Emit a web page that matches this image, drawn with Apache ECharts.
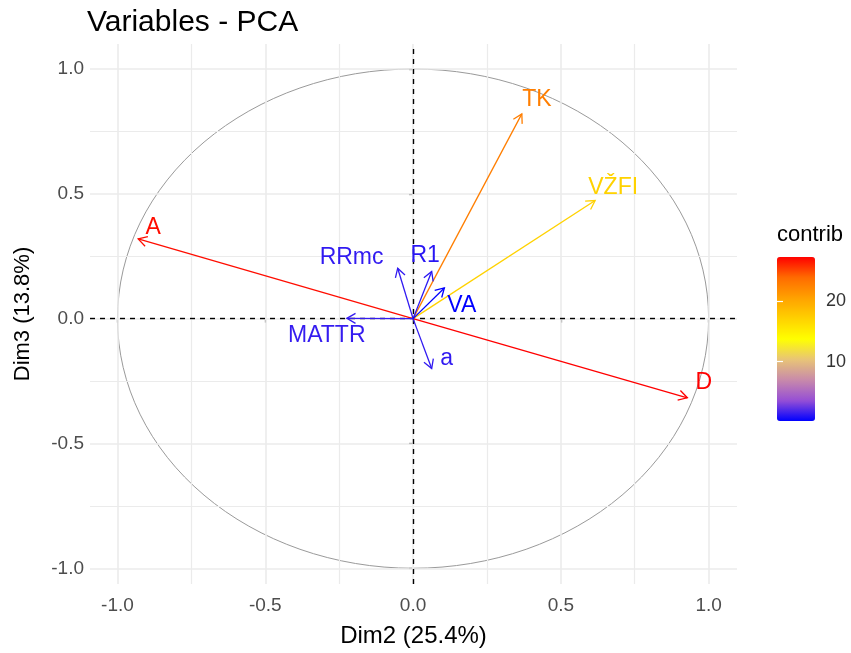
<!DOCTYPE html>
<html><head><meta charset="utf-8">
<script src="https://cdn.jsdelivr.net/npm/echarts@6/dist/echarts.min.js"></script>
<style>html,body{margin:0;padding:0;background:#fff}#c{width:851px;height:653px}</style>
</head><body><div id="c"></div>
<script>
// ---- data ----
const variables = ['A', 'D', 'TK', 'VŽFI', 'RRmc', 'R1', 'VA', 'MATTR', 'a'];
const dim2 = [-0.930, 0.928, 0.368, 0.616, -0.052, 0.063, 0.106, -0.224, 0.063];
const dim3 = [0.319, -0.317, 0.820, 0.473, 0.202, 0.189, 0.123, 0.001, -0.200];
const contrib = [26.9, 27.3, 22.7, 17.1, 1.3, 1.1, 0.2, 1.4, 1.3];
// label anchor positions (data units, as repelled in the reference)
const labelX = [-0.879, 0.984, 0.419, 0.677, -0.208, 0.041, 0.165, -0.292, 0.114];
const labelY = [0.365, -0.258, 0.877, 0.524, 0.246, 0.254, 0.052, -0.067, -0.160];
const axisTicks = [-1, -0.5, 0, 0.5, 1];
const tickLabels = ['-1.0', '-0.5', '0.0', '0.5', '1.0'];
const minorTicks = [-0.75, -0.25, 0.25, 0.75];
const legendTicks = [10, 20];
const legendTickLabels = ['10', '20'];

const FONT = '"Liberation Sans", Arial, sans-serif';
const cMin = Math.min(...contrib), cMax = Math.max(...contrib);
// blue -> yellow -> red, sampled as a Lab-space blend (like ggplot's gradient)
const gradient = ['#0000FF', '#964FD5', '#C88AAA', '#E8C477', '#FFFF00', '#FFD100', '#FFA100', '#FF6B00', '#FF0000'];

const chart = echarts.init(document.getElementById('c'), null, {renderer: 'canvas'});

const arrowData = variables.map((n, i) => [dim2[i], dim3[i], contrib[i], labelX[i], labelY[i]]);

function tickLabel(v) {
  const i = axisTicks.findIndex(t => Math.abs(t - v) < 1e-9);
  return i >= 0 ? tickLabels[i] : '';
}

function renderArrow(params, api) {
  const o = api.coord([0, 0]);
  const p = api.coord([api.value(0), api.value(1)]);
  const color = api.visual('color');
  const ang = Math.atan2(p[1] - o[1], p[0] - o[0]);
  const L = 10, a = Math.PI / 6;
  const h1 = [p[0] - L * Math.cos(ang - a), p[1] - L * Math.sin(ang - a)];
  const h2 = [p[0] - L * Math.cos(ang + a), p[1] - L * Math.sin(ang + a)];
  const lab = api.coord([api.value(3), api.value(4)]);
  return {
    type: 'group',
    children: [
      {type: 'line', shape: {x1: o[0], y1: o[1], x2: p[0], y2: p[1]}, style: {stroke: color, lineWidth: 1.3}},
      {type: 'polyline', shape: {points: [h1, p, h2]}, style: {stroke: color, fill: null, lineWidth: 1.3}},
      {type: 'text', x: lab[0], y: lab[1], style: {text: variables[params.dataIndex], fill: color, fontSize: 23, fontFamily: FONT, align: 'center', verticalAlign: 'middle'}}
    ]
  };
}

function renderCircle(params, api) {
  const c = api.coord([api.value(0), api.value(1)]);
  const r = api.value(2);
  const rx = api.size([r, 0])[0];
  const ry = api.size([0, r])[1];
  return {
    type: 'path',
    shape: {pathData: `M ${c[0] - rx} ${c[1]} A ${rx} ${ry} 0 1 0 ${c[0] + rx} ${c[1]} A ${rx} ${ry} 0 1 0 ${c[0] - rx} ${c[1]} Z`},
    style: {stroke: '#9A9A9A', fill: null, lineWidth: 1}
  };
}

const gridLineMajor = {color: '#EBEBEB', width: 1.6, type: 'solid'};
const gridLineMinor = {color: '#EBEBEB', width: 1.2, type: 'solid'};

const option = {
  animation: false,
  backgroundColor: '#fff',
  title: [
    {text: 'Variables - PCA', left: 87, top: 8, padding: 0, textStyle: {fontFamily: FONT, fontSize: 30, fontWeight: 'normal', color: '#000'}},
    {text: 'contrib', left: 777, top: 224, padding: 0, textStyle: {fontFamily: FONT, fontSize: 22, fontWeight: 'normal', color: '#000'}}
  ],
  grid: [
    {left: 90, right: 114, top: 44, bottom: 64},
    {left: 777, top: 257, width: 38, height: 164}
  ],
  xAxis: [
    {
      gridIndex: 0, type: 'value', min: -1.093, max: 1.096,
      name: 'Dim2 (25.4%)', nameLocation: 'middle', nameGap: 40,
      nameTextStyle: {fontFamily: FONT, fontSize: 24, color: '#000'},
      axisLine: {show: false},
      axisTick: {show: true, customValues: axisTicks, length: 4, lineStyle: {color: '#333', width: 1.2}},
      axisLabel: {customValues: axisTicks, formatter: tickLabel, fontFamily: FONT, fontSize: 19, color: '#4D4D4D', margin: 12},
      splitLine: {show: false}
    },
    {gridIndex: 1, type: 'value', min: 0, max: 1, show: false}
  ],
  yAxis: [
    {
      gridIndex: 0, type: 'value', min: -1.063, max: 1.1,
      name: 'Dim3 (13.8%)', nameLocation: 'middle', nameGap: 56, nameRotate: 90,
      nameTextStyle: {fontFamily: FONT, fontSize: 22, color: '#000'},
      axisLine: {show: false},
      axisTick: {show: true, customValues: axisTicks, length: 4, lineStyle: {color: '#333', width: 1.2}},
      axisLabel: {customValues: axisTicks, formatter: tickLabel, fontFamily: FONT, fontSize: 19, color: '#4D4D4D', margin: 6},
      splitLine: {show: false}
    },
    {
      gridIndex: 1, type: 'value', min: cMin, max: cMax, position: 'right', z: 10,
      axisLine: {show: false},
      axisTick: {show: true, inside: true, customValues: legendTicks, length: 6, lineStyle: {color: '#fff', width: 1.2}},
      axisLabel: {customValues: legendTicks, formatter: v => legendTickLabels[legendTicks.indexOf(v)] || '', fontFamily: FONT, fontSize: 18, color: '#333', margin: 11},
      splitLine: {show: false}
    },
    {
      gridIndex: 1, type: 'value', min: cMin, max: cMax, position: 'left', z: 10,
      axisLine: {show: false},
      axisTick: {show: true, inside: true, customValues: legendTicks, length: 6, lineStyle: {color: '#fff', width: 1.2}},
      axisLabel: {show: false},
      splitLine: {show: false}
    }
  ],
  visualMap: {
    type: 'continuous', seriesIndex: 3, dimension: 2, min: cMin, max: cMax,
    inRange: {color: gradient}, calculable: false, hoverLink: false,
    left: 777, top: 257, itemWidth: 38, itemHeight: 164, padding: 0, text: null,
    showLabel: false
  },
  series: [
    {
      type: 'line', xAxisIndex: 0, yAxisIndex: 0, data: [], silent: true, z: 1,
      markLine: {
        silent: true, symbol: 'none', label: {show: false}, animation: false,
        data: [
          ...minorTicks.map(v => ({xAxis: v, lineStyle: gridLineMinor})),
          ...minorTicks.map(v => ({yAxis: v, lineStyle: gridLineMinor})),
          ...axisTicks.map(v => ({xAxis: v, lineStyle: gridLineMajor})),
          ...axisTicks.map(v => ({yAxis: v, lineStyle: gridLineMajor}))
        ]
      }
    },
    {
      type: 'custom', xAxisIndex: 0, yAxisIndex: 0, silent: true, z: 2,
      renderItem: renderCircle, data: [[0, 0, 1]], clip: false
    },
    {
      type: 'line', xAxisIndex: 0, yAxisIndex: 0, data: [], silent: true, z: 3,
      markLine: {
        silent: true, symbol: 'none', label: {show: false}, animation: false,
        lineStyle: {color: '#000', width: 1.4, type: [5, 5]},
        data: [{xAxis: 0}, {yAxis: 0}]
      }
    },
    {
      type: 'custom', xAxisIndex: 0, yAxisIndex: 0, z: 5,
      renderItem: renderArrow, data: arrowData, clip: false,
      encode: {x: 0, y: 1}
    }
  ]
};
chart.setOption(option);
</script>
</body></html>
